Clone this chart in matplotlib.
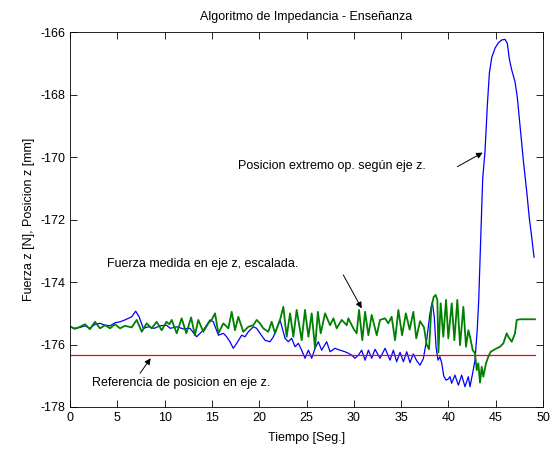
import matplotlib
matplotlib.use('Agg')
import matplotlib.pyplot as plt

plt.rcParams['font.family'] = ['Liberation Sans', 'DejaVu Sans']
plt.rcParams['font.size'] = 9
plt.rcParams['axes.unicode_minus'] = False

# Fuerza z medida (escalada)
fuerza_t = [0.0, 0.5, 1.06, 1.59, 2.1, 2.64, 3.17, 3.7, 4.23, 4.76, 5.29, 5.81,
            6.52, 7.05, 7.58, 8.1, 8.63, 9.16, 9.69, 10.2, 10.5, 10.75, 11.28,
            11.8, 12.3, 12.8, 13.2, 13.56, 14.09, 14.62, 14.97, 15.33, 15.68,
            16.21, 16.74, 17.09, 17.44, 17.79, 18.32, 18.85, 19.38, 19.73,
            20.08, 20.43, 20.96, 21.32, 21.67, 22.2, 22.55, 22.9, 23.26, 23.61,
            23.96, 24.49, 24.84, 25.2, 25.55, 25.9, 26.2, 26.5, 26.96, 27.49,
            27.84, 28.19, 28.72, 29.25, 29.42, 29.95, 30.3, 30.55, 30.9, 31.19,
            31.54, 31.89, 32.42, 32.77, 33.3, 33.65, 34.0, 34.36, 34.71, 35.1,
            35.5, 35.9, 36.29, 36.6, 37.0, 37.42, 37.7, 37.95, 38.2, 38.45,
            38.65, 38.83, 38.94, 39.18, 39.46, 39.75, 39.99, 40.35, 40.63,
            40.94, 41.23, 41.58, 41.86, 42.11, 42.28, 42.57, 42.81, 42.99,
            43.16, 43.34, 43.52, 43.69, 43.97, 44.22, 44.47, 44.75, 45.1,
            45.45, 45.81, 46.16, 46.33, 46.69, 47.04, 47.22, 47.57, 49.15]
fuerza_z = [-175.42, -175.50, -175.43, -175.35, -175.51, -175.27, -175.48,
            -175.38, -175.48, -175.35, -175.48, -175.40, -175.45, -175.21,
            -175.59, -175.32, -175.48, -175.27, -175.54, -175.27, -175.35,
            -175.21, -175.64, -175.16, -175.64, -175.13, -175.70, -175.21,
            -175.59, -175.32, -175.21, -175.00, -175.64, -175.32, -175.48,
            -174.95, -175.54, -175.11, -175.59, -175.43, -175.38, -175.21,
            -175.32, -175.48, -175.59, -175.27, -175.64, -175.21, -174.79,
            -175.75, -175.00, -175.75, -174.89, -175.86, -174.89, -175.75,
            -175.00, -176.12, -174.95, -175.64, -175.00, -175.38, -175.16,
            -175.48, -175.21, -175.38, -175.16, -175.48, -175.64, -174.89,
            -175.86, -174.95, -175.70, -175.05, -175.70, -175.21, -175.16,
            -175.32, -175.11, -175.86, -174.89, -175.70, -175.00, -175.52,
            -174.95, -175.80, -175.25, -175.45, -176.00, -176.15, -174.79,
            -174.47, -174.41, -174.57, -176.25, -174.68, -175.75, -174.57,
            -175.80, -174.68, -175.86, -174.57, -176.02, -174.79, -176.07,
            -175.54, -175.75, -176.18, -176.28, -176.82, -176.60, -177.22,
            -176.71, -177.03, -176.60, -176.39, -176.23, -176.18, -176.12,
            -176.07, -175.96, -175.64, -175.75, -175.91, -175.64, -175.21,
            -175.19, -175.19]

# Posicion del extremo operativo segun eje z
pos_t = [0.0, 0.53, 1.06, 1.59, 2.1, 2.64, 3.17, 3.7, 4.23, 4.76, 5.29, 5.81,
         6.52, 6.94, 7.29, 7.75, 8.3, 8.9, 9.5, 10.2, 10.6, 11.3, 12.0, 12.68,
         13.38, 14.09, 14.8, 15.15, 15.68, 16.21, 16.56, 16.91, 17.26, 17.62,
         18.15, 18.5, 18.85, 19.38, 19.73, 20.08, 20.61, 21.14, 21.5, 21.85,
         22.2, 22.73, 23.08, 23.43, 23.79, 24.14, 24.49, 24.84, 25.2, 25.55,
         25.9, 26.25, 26.6, 27.13, 27.49, 28.01, 28.54, 29.07, 29.42, 29.78,
         30.13, 30.48, 30.83, 31.19, 31.54, 31.89, 32.24, 32.77, 33.3, 33.83,
         34.18, 34.53, 34.89, 35.24, 35.59, 35.94, 36.29, 36.65, 37.0, 37.35,
         37.7, 38.05, 38.3, 38.5, 38.7, 38.9, 39.1, 39.3, 39.5, 39.75, 40.0,
         40.17, 40.34, 40.69, 41.05, 41.4, 41.75, 42.1, 42.28, 42.56, 42.81,
         43.05, 43.2, 43.34, 43.62, 43.87, 44.12, 44.33, 44.58, 44.93, 45.28,
         45.63, 45.98, 46.23, 46.44, 46.69, 47.04, 47.29, 47.57, 47.92, 48.28,
         48.55, 48.8, 49.05]
pos_z = [-175.43, -175.48, -175.45, -175.40, -175.48, -175.35, -175.32,
         -175.38, -175.40, -175.30, -175.27, -175.21, -175.11, -174.93,
         -175.10, -175.48, -175.43, -175.48, -175.40, -175.38, -175.48,
         -175.43, -175.50, -175.48, -175.75, -175.54, -175.21, -175.27,
         -175.70, -175.64, -175.75, -175.91, -176.12, -175.96, -175.70,
         -175.75, -175.59, -175.43, -175.48, -175.64, -175.86, -175.91,
         -175.75, -175.48, -175.21, -175.80, -175.91, -175.80, -176.07,
         -175.96, -176.18, -176.44, -176.18, -176.44, -176.12, -175.91,
         -176.18, -175.91, -176.23, -176.12, -176.18, -176.23, -176.28,
         -176.34, -176.44, -176.34, -176.18, -176.50, -176.18, -176.44,
         -176.15, -176.44, -176.12, -176.50, -176.18, -176.55, -176.25,
         -176.55, -176.23, -176.58, -176.30, -176.52, -176.66, -176.45,
         -175.85, -175.00, -174.65, -175.10, -176.10, -176.50, -176.39,
         -176.60, -177.00, -177.14, -177.10, -177.03, -177.24, -176.98,
         -177.30, -176.98, -177.35, -177.03, -177.35, -176.92, -176.50,
         -175.50, -174.60, -173.30, -170.70, -169.80, -168.30, -167.30,
         -166.80, -166.50, -166.33, -166.24, -166.22, -166.35, -166.85,
         -167.20, -167.58, -168.10, -169.00, -170.10, -171.10, -171.95,
         -172.55, -173.20]

# Referencia de posicion
ref_t = [0.0, 49.15]
ref_z = [-176.33, -176.33]

fig = plt.figure(figsize=(5.57, 4.5), dpi=100)
ax = fig.add_axes([0.1257, 0.0956, 0.8492, 0.8322])

ax.plot(pos_t, pos_z, color='#0000ff', lw=0.9, solid_joinstyle='round')
ax.plot(fuerza_t, fuerza_z, color='#008000', lw=1.3, solid_joinstyle='round')
ax.plot(ref_t, ref_z, color='#ff0000', lw=0.9)

ax.set_xlim(0, 50)
ax.set_ylim(-178, -166)
ax.set_xticks(range(0, 51, 5))
ax.set_yticks(range(-178, -165, 2))
ax.tick_params(direction='in', top=True, right=True, length=5, width=0.6,
               labelsize=9)
for s in ax.spines.values():
    s.set_linewidth(0.6)

ax.set_title('Algoritmo de Impedancia - Enseñanza', fontsize=9, pad=9)
ax.set_xlabel('Tiempo [Seg.]', fontsize=9, labelpad=6)
ax.set_ylabel('Fuerza z [N], Posicion z [mm]', fontsize=9, labelpad=4)

arrow = dict(arrowstyle='-|>', color='black', lw=0.7,
             mutation_scale=9, shrinkA=0, shrinkB=0)
ax.text(17.76, -170.28, 'Posicion extremo op. según eje z.', va='center',
        ha='left', fontsize=9)
ax.annotate('', xy=(43.62, -169.85), xytext=(40.94, -170.3),
            arrowprops=arrow)
ax.text(3.9, -173.42, 'Fuerza medida en eje z, escalada.', va='center',
        ha='left', fontsize=9)
ax.annotate('', xy=(30.83, -174.84), xytext=(28.89, -173.77),
            arrowprops=arrow)
ax.text(2.3, -177.23, 'Referencia de posicion en eje z.', va='center',
        ha='left', fontsize=9)
ax.annotate('', xy=(8.53, -176.44), xytext=(7.4, -176.92),
            arrowprops=arrow)

fig.savefig('out.png', dpi=100, facecolor='white')
